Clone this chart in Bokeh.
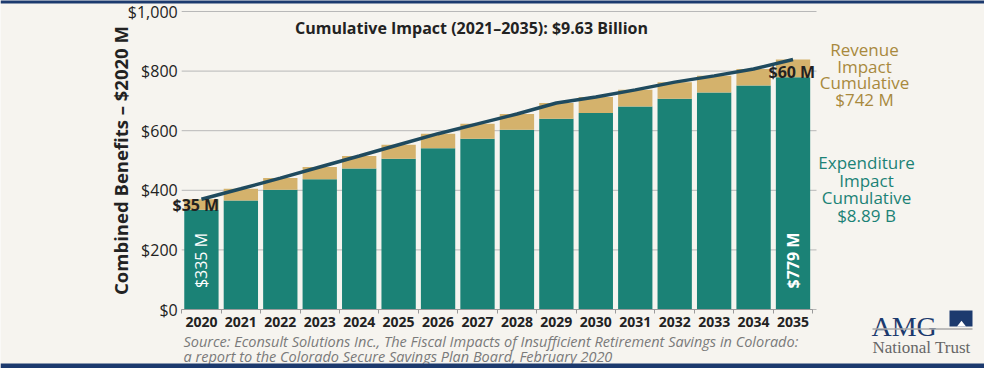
import math
from bokeh.plotting import figure
from bokeh.models import (Range1d, FixedTicker, NumeralTickFormatter, Label, BoxAnnotation)
from bokeh.embed import file_html
from bokeh.resources import INLINE

# ---------------- data ----------------
years = [2020, 2021, 2022, 2023, 2024, 2025, 2026, 2027, 2028, 2029, 2030, 2031, 2032, 2033, 2034, 2035]
expenditure = [335, 366, 402, 437, 473, 506, 541, 573, 603, 640, 659, 681, 707, 728, 752, 779]
revenue = [35, 39, 39, 41, 42, 47, 49, 50, 53, 53, 54, 56, 56, 56, 55, 60]
y_ticks = [0, 200, 400, 600, 800, 1000]
title_text = "Cumulative Impact (2021\u20132035): $9.63 Billion"
y_label = "Combined Benefits \u2013 $2020 M"
revenue_legend = ["Revenue", "Impact", "Cumulative", "$742 M"]
expenditure_legend = ["Expenditure", "Impact", "Cumulative", "$8.89 B"]
source_lines = [
    "Source: Econsult Solutions Inc., The Fiscal Impacts of Insufficient Retirement Savings in Colorado:",
    "a report to the Colorado Secure Savings Plan Board, February 2020",
]

# ---------------- style ----------------
BG = "#f6f4ef"
TEAL = "#1b8276"
TAN = "#d4b26c"
TAN_TEXT = "#a8893d"
LINE = "#1f4a5e"
NAVY = "#1c3a6e"
GRID = "#b8b8b8"
FONT = "Open Sans"
SERIF = "Liberation Serif"

# layout helpers: map a position on the 1000x384 picture to the plot's data space
W, H = 984, 368
PX, PY = 39.44, 0.298          # pixels per category / per $M
FX0, FY0 = 181.2, 309.0        # figure pixel of x=-0.5 and of y=0


def X(px):
    return -0.5 + (px - 8 - FX0) / PX


def Y(py):
    return (FY0 - (py - 11)) / PY


idx = list(range(len(years)))
totals = [e + r for e, r in zip(expenditure, revenue)]

p = figure(width=W, height=H, output_backend="svg", toolbar_location=None,
           x_range=Range1d(X(8), X(8 + W)), y_range=Range1d(Y(11 + H), Y(11)),
           min_border=0, min_border_left=0, min_border_right=0, min_border_top=0,
           min_border_bottom=0,
           background_fill_color=BG, border_fill_color=BG, outline_line_color=None)
p.title = None
p.xgrid.visible = False
p.ygrid.visible = False

# gridlines (drawn from the tick values)
p.segment(x0=-0.5, x1=X(824), y0=y_ticks, y1=y_ticks, line_color=GRID, line_width=1)

source = dict(x=idx, expenditure=expenditure, revenue=revenue)
p.vbar_stack(["expenditure", "revenue"], x="x", width=0.87, color=[TEAL, TAN],
             line_color=None, source=source)
p.line(idx, totals, line_color=LINE, line_width=3.5)

# x axis pinned at y = 0
xa = p.xaxis[0]
xa.fixed_location = 0
xa.bounds = (-0.5, len(years) - 0.5)
xa.ticker = FixedTicker(ticks=idx, minor_ticks=[i - 0.5 for i in range(len(years) + 1)])
xa.major_label_overrides = {i: str(y) for i, y in zip(idx, years)}
xa.major_tick_line_color = None
xa.major_tick_out = 0
xa.major_tick_in = 0
xa.minor_tick_line_color = "#9a9a9a"
xa.minor_tick_out = 4
xa.minor_tick_in = 0
xa.axis_line_color = "#9a9a9a"
xa.major_label_text_font = FONT
xa.major_label_text_font_size = "14px"
xa.major_label_text_font_style = "bold"
xa.major_label_text_color = "#222222"
xa.major_label_standoff = 3

# y axis pinned at x = -0.5
ya = p.yaxis[0]
ya.fixed_location = -0.5
ya.bounds = (0, 1000)
ya.ticker = FixedTicker(ticks=y_ticks)
ya.formatter = NumeralTickFormatter(format="$0,0")
ya.axis_line_color = None
ya.major_tick_line_color = None
ya.minor_tick_line_color = None
ya.major_tick_out = 0
ya.major_tick_in = 0
ya.major_label_standoff = 4
ya.major_label_text_font = FONT
ya.major_label_text_font_size = "16px"
ya.major_label_text_color = "#222222"
ya.axis_label = y_label
ya.axis_label_text_font = FONT
ya.axis_label_text_font_size = "18.5px"
ya.axis_label_text_font_style = "bold"
ya.axis_label_text_color = "#222222"
ya.axis_label_standoff = -8


def lab(x, y, text, size, color="#222222", style="normal", align="left",
        baseline="middle", angle=0, font=FONT):
    p.add_layout(Label(x=x, y=y, text=text, text_font=font, text_font_size=size,
                       text_font_style=style, text_color=color, text_align=align,
                       text_baseline=baseline, angle=angle))


lab(X(479), Y(38), title_text, "16px", style="bold", align="center")
lab(X(180), Y(215), f"${revenue[0]} M", "16px", style="bold")
lab(X(776), Y(82.5), f"${revenue[-1]} M", "16px", style="bold")
lab(0, Y(271), f"${expenditure[0]} M", "16px", color="white", align="center", angle=math.pi / 2)
lab(15, Y(271), f"${expenditure[-1]} M", "16px", color="white", style="bold",
    align="center", angle=math.pi / 2)

for t, y in zip(revenue_legend, [59.5, 76.5, 93, 110]):
    lab(X(872), Y(y), t, "17px", color=TAN_TEXT, align="center")
for t, y in zip(expenditure_legend, [173, 191, 208, 225.5]):
    lab(X(874), Y(y), t, "17px", color=TEAL, align="center")

for t, y in zip(source_lines, [351.5, 366.5]):
    lab(X(191), Y(y), t, "14.5px", color="#7a7a7a", style="italic")

# logo
lab(X(879), Y(336.5), "AMG", "28px", color=NAVY, baseline="alphabetic", font=SERIF)
p.add_layout(BoxAnnotation(left=X(957), right=X(980), top=Y(321), bottom=Y(337),
                           fill_color=NAVY, fill_alpha=1, line_color=None))
p.patch([X(964.5), X(969), X(973.5)], [Y(337), Y(331.3), Y(337)],
        fill_color="white", line_color=None, level="overlay")
p.add_layout(BoxAnnotation(left=X(880), right=X(980), top=Y(338.7), bottom=Y(340.2),
                           fill_color="#a9a9a9", fill_alpha=1, line_color=None))
lab(X(880), Y(357.5), "National Trust", "17px", color="#666666", font=SERIF,
    baseline="alphabetic")

# navy page borders
p.add_layout(BoxAnnotation(top=Y(0), bottom=Y(14), fill_color=NAVY, fill_alpha=1, line_color=None))
p.add_layout(BoxAnnotation(top=Y(374), bottom=Y(400), fill_color=NAVY, fill_alpha=1, line_color=None))

open("out.html", "w").write(file_html(p, INLINE))
